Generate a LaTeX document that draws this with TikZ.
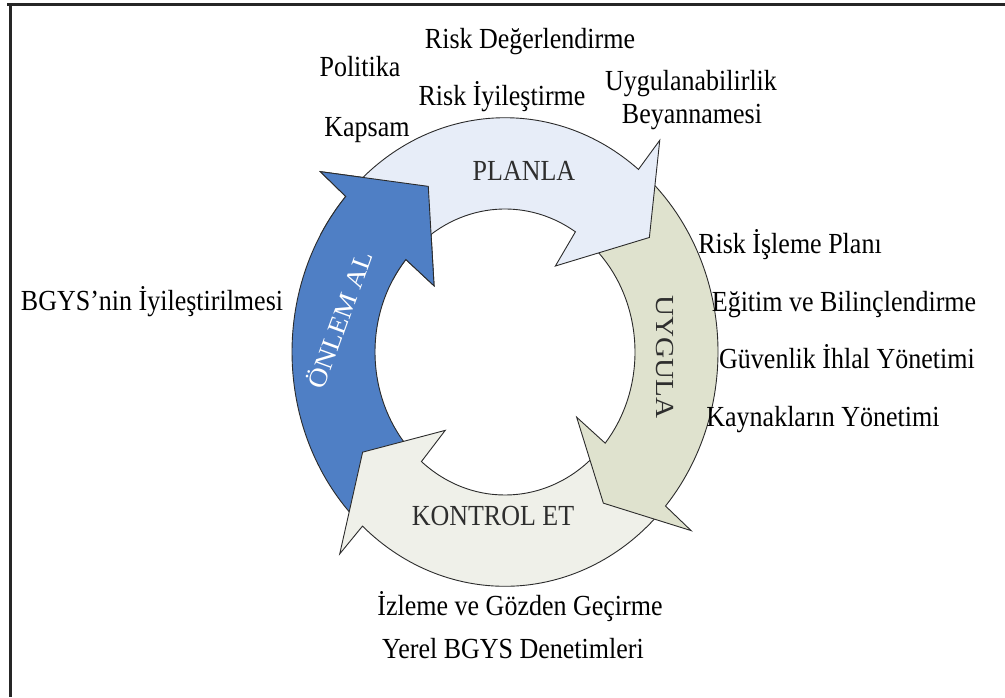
\documentclass[tikz,border=0pt]{standalone}
\usepackage{fontspec}
\setmainfont{Liberation Serif}
\definecolor{planfill}{HTML}{E7EDF8}
\definecolor{dofill}{HTML}{DFE2CE}
\definecolor{checkfill}{HTML}{EFF0E9}
\definecolor{actfill}{HTML}{4F7FC5}
\definecolor{edgegray}{HTML}{2B2B2B}
% ring radii (outer band, inner band, arrow tip, outer/inner barbs)
\def\rOut{213}
\def\rIn{130}
\def\rBarbOut{247}
\def\rBarbIn{93}
% #1 fill, #2 tail angle, #3 outer barb angle, #4 inner barb angle, #5 tip angle, #6 tip radius
\newcommand{\cyclearrow}[6]{%
  \path[ringpart, fill=#1] (#2:\rOut) arc[start angle=#2, end angle=#3, radius=\rOut]
    -- (#3:\rBarbOut) -- (#5:#6) -- (#4:\rBarbIn) -- (#4:\rIn)
    arc[start angle=#4, end angle=#2, radius=\rIn] -- cycle;}
\begin{document}
\begin{tikzpicture}[x=1pt,y=-1pt,
  basetext/.style={inner sep=0pt, text height=0.7em, text depth=0.2em,
    font=\fontsize{26}{30}\selectfont},
  lbl/.style={basetext, yscale=1.12},
  inlbl/.style={lbl, text=black!82},
  ringpart/.style={draw=edgegray, line width=0.9pt, line join=miter},
]
\useasboundingbox (0,0) rectangle (1005,697);
\fill[white] (0,0) rectangle (1005,697);
% frame
\draw[line width=2.2pt, black!85] (7,4.5) -- (1005,4.5);
\draw[line width=2.4pt, black!85] (10.5,4.5) -- (10.5,697);

% the four cycle arrows
\begin{scope}[shift={(505,352)}, yscale=-1.1]
  \cyclearrow{actfill}{225}{138.4}{139.7}{117}{169}
  \cyclearrow{checkfill}{316}{228}{230}{212.6}{169}
  \cyclearrow{dofill}{50}{-41.1}{-39.6}{-54.4}{169}
  \cyclearrow{planfill}{135}{51.2}{57.2}{35.8}{178}
  % head of the blue arrow lies over the tail of the PLANLA arrow
  \begin{scope}
    \clip (0,0) -- (100:320) arc[start angle=100, end angle=150, radius=320] -- cycle;
    \cyclearrow{actfill}{225}{138.4}{139.7}{117}{169}
  \end{scope}
\end{scope}

% stage names
\node[inlbl] (plan) at (524,178) {PLANLA};
\node[basetext, text=black!82, rotate=-90, xscale=1.12] (do) at (659,357) {UYGULA};
\node[inlbl] (check) at (493,523) {KONTROL ET};
\node[basetext, text=white, rotate=70, xscale=1.08] (act) at (346,322) {ÖNLEM AL};

% activities
\node[lbl] (riskdeg) at (530,46) {Risk Değerlendirme};
\node[lbl] (politika) at (360,74) {Politika};
\node[lbl] (riskiyi) at (502,103) {Risk İyileştirme};
\node[lbl] (uygul) at (691,88) {Uygulanabilirlik};
\node[lbl] (beyan) at (692,121) {Beyannamesi};
\node[lbl] (kapsam) at (367,134) {Kapsam};
\node[lbl] (riskisl) at (790,251) {Risk İşleme Planı};
\node[lbl] (egitim) at (844,309) {Eğitim ve Bilinçlendirme};
\node[lbl] (guvenlik) at (847,366) {Güvenlik İhlal Yönetimi};
\node[lbl] (kaynak) at (823,424) {Kaynakların Yönetimi};
\node[lbl] (bgys) at (152,308) {BGYS’nin İyileştirilmesi};
\node[lbl] (izleme) at (520,613) {İzleme ve Gözden Geçirme};
\node[lbl] (yerel) at (513,656) {Yerel BGYS Denetimleri};
\end{tikzpicture}
\end{document}
